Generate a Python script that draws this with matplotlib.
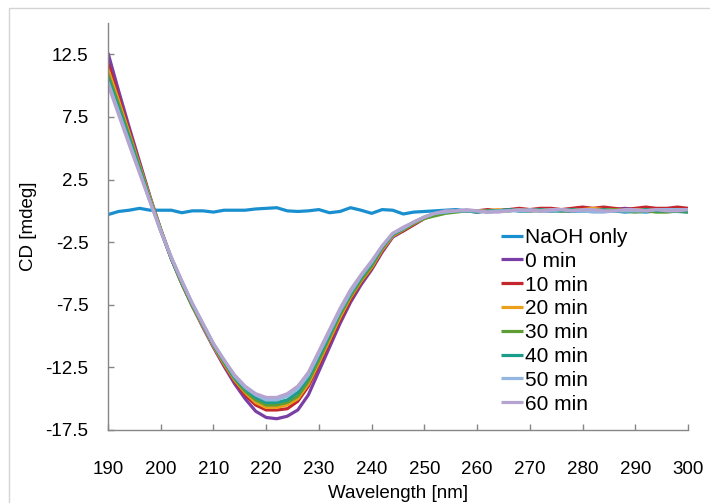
import numpy as np
import matplotlib
matplotlib.use("Agg")
import matplotlib.pyplot as plt
from matplotlib.patches import Rectangle

plt.rcParams['font.family'] = ['Liberation Sans', 'DejaVu Sans']

# wavelength grid, 2 nm steps
wavelength = np.arange(190, 301, 2)

naoh_only = [
    -0.3, -0.05, 0.05, 0.2, 0.05, 0.05, 0.05, -0.15, 0.0, 0.0,
    -0.1, 0.05, 0.05, 0.05, 0.15, 0.2, 0.25, 0.0, -0.05, 0.0,
    0.1, -0.15, -0.05, 0.25, 0.05, -0.2, 0.1, 0.05, -0.25, -0.1,
    -0.05, 0.0, 0.05, 0.1, 0.0, 0.0, -0.05, 0.0, 0.1, 0.0,
    0.0, 0.05, 0.0, 0.0, -0.05, 0.0, 0.05, 0.0, 0.0, -0.1,
    -0.05, -0.1, 0.0, -0.05, -0.05, -0.1]
min0 = [
    12.6, 9.6, 6.7, 3.9, 1.1, -1.5, -3.8, -5.8, -7.6, -9.3,
    -10.9, -12.4, -13.8, -15.0, -16.0, -16.5, -16.6, -16.4, -15.9, -14.7,
    -12.8, -10.9, -9.0, -7.3, -5.9, -4.7, -3.3, -2.1, -1.6, -1.1,
    -0.6, -0.3, -0.1, 0.0, 0.0, -0.1, 0.0, 0.0, 0.1, 0.0,
    0.1, 0.0, 0.0, 0.1, 0.1, 0.2, 0.1, 0.0, 0.1, 0.2,
    0.1, 0.1, 0.0, 0.1, 0.1, 0.0]
min10 = [
    11.8, 9.1, 6.4, 3.7, 1.0, -1.5, -3.8, -5.8, -7.6, -9.2,
    -10.8, -12.3, -13.6, -14.7, -15.5, -15.9, -15.9, -15.8, -15.2, -14.0,
    -12.3, -10.5, -8.7, -7.1, -5.7, -4.6, -3.2, -2.0, -1.6, -1.1,
    -0.6, -0.3, -0.1, 0.0, 0.0, 0.0, 0.1, 0.0, 0.1, 0.2,
    0.1, 0.2, 0.2, 0.1, 0.2, 0.3, 0.2, 0.3, 0.2, 0.1,
    0.2, 0.3, 0.2, 0.2, 0.3, 0.2]
min20 = [
    11.3, 8.8, 6.2, 3.6, 1.0, -1.5, -3.8, -5.8, -7.6, -9.2,
    -10.8, -12.2, -13.5, -14.5, -15.3, -15.7, -15.7, -15.5, -15.0, -13.8,
    -12.1, -10.3, -8.5, -6.9, -5.6, -4.5, -3.1, -2.0, -1.5, -1.0,
    -0.6, -0.3, -0.1, 0.0, 0.0, 0.0, 0.0, 0.1, 0.0, 0.1,
    0.0, 0.1, 0.1, 0.0, 0.1, 0.1, 0.2, 0.1, 0.1, 0.0,
    0.1, 0.1, 0.0, 0.1, 0.0, 0.1]
min30 = [
    10.9, 8.5, 6.0, 3.5, 0.9, -1.5, -3.8, -5.8, -7.6, -9.1,
    -10.7, -12.1, -13.4, -14.4, -15.1, -15.5, -15.5, -15.3, -14.8, -13.6,
    -11.9, -10.1, -8.3, -6.8, -5.5, -4.4, -3.0, -1.9, -1.5, -1.0,
    -0.6, -0.4, -0.2, -0.1, 0.0, 0.0, -0.1, 0.0, 0.0, 0.1,
    0.0, 0.0, 0.1, 0.0, 0.0, 0.1, 0.0, 0.0, 0.1, 0.0,
    -0.1, 0.0, -0.1, -0.1, 0.0, -0.1]
min40 = [
    10.6, 8.2, 5.8, 3.3, 0.8, -1.6, -3.8, -5.7, -7.5, -9.1,
    -10.7, -12.0, -13.3, -14.2, -14.9, -15.3, -15.3, -15.1, -14.5, -13.3,
    -11.6, -9.9, -8.1, -6.6, -5.3, -4.2, -2.9, -1.9, -1.4, -0.9,
    -0.5, -0.2, -0.1, 0.0, 0.0, -0.1, 0.0, 0.0, 0.1, 0.0,
    0.0, 0.1, 0.0, 0.0, 0.1, 0.0, 0.0, 0.1, 0.0, 0.0,
    0.0, 0.1, 0.0, 0.0, 0.0, 0.0]
min50 = [
    10.3, 7.9, 5.5, 3.1, 0.7, -1.6, -3.7, -5.6, -7.4, -9.0,
    -10.6, -11.9, -13.2, -14.1, -14.7, -15.1, -15.1, -14.8, -14.2, -13.1,
    -11.4, -9.7, -8.0, -6.5, -5.2, -4.1, -2.8, -1.8, -1.4, -0.9,
    -0.5, -0.2, -0.1, 0.0, 0.0, 0.0, -0.1, 0.0, 0.0, 0.0,
    0.1, 0.0, 0.0, 0.1, 0.0, 0.0, -0.1, -0.1, 0.0, 0.0,
    0.0, 0.0, 0.1, 0.1, 0.1, 0.1]
min60 = [
    10.1, 7.7, 5.3, 3.0, 0.7, -1.6, -3.7, -5.6, -7.4, -9.0,
    -10.6, -11.9, -13.1, -14.0, -14.6, -14.9, -14.9, -14.6, -14.0, -12.9,
    -11.2, -9.5, -7.8, -6.3, -5.1, -4.0, -2.8, -1.8, -1.3, -0.9,
    -0.5, -0.2, 0.0, 0.0, 0.1, 0.0, -0.1, -0.1, 0.0, 0.1,
    0.0, 0.0, 0.1, 0.1, 0.0, 0.1, 0.1, 0.0, 0.0, 0.1,
    0.1, 0.0, 0.1, 0.0, 0.0, 0.1]

labels = ['NaOH only', '0 min', '10 min', '20 min', '30 min',
          '40 min', '50 min', '60 min']
series = [naoh_only, min0, min10, min20, min30, min40, min50, min60]
colors = ['#1a8fcf', '#7a3fa5', '#c3262d', '#eba01c', '#5e9c35',
          '#1c9c8a', '#93b6e0', '#b5a4cf']

xticks = np.arange(190, 301, 10)
yticks = np.arange(-17.5, 13, 5)

fig = plt.figure(figsize=(7.1, 5.03), dpi=100)
ax = fig.add_axes([108/710, 1-430/503, 580/710, 407/503])

for y, c, lab in zip(series, colors, labels):
    ax.plot(wavelength, y, color=c, lw=2.3, label=lab, solid_capstyle='butt')

ax.set_xlim(190, 300)
ax.set_ylim(-17.5, 15)
ax.set_xticks(xticks)
ax.set_yticks(yticks)
ax.set_yticklabels(['%.1f' % v for v in yticks])

for s in ['top', 'right']:
    ax.spines[s].set_visible(False)
for s in ['left', 'bottom']:
    ax.spines[s].set_color('#868686')
    ax.spines[s].set_linewidth(1.0)
ax.tick_params(direction='in', length=4, width=1, color='#868686',
               labelsize=13.5)
ax.tick_params(axis='x', pad=22)
ax.tick_params(axis='y', pad=14)

ax.set_xlabel('Wavelength [nm]', fontsize=13.5, labelpad=5)
ax.set_ylabel('CD [mdeg]', fontsize=13.5, labelpad=6)

leg = ax.legend(loc='upper left', bbox_to_anchor=(501/710, 1-228/503),
                bbox_transform=fig.transFigure, frameon=False, fontsize=15,
                handlelength=1.05, handletextpad=0.1, labelspacing=0.23,
                borderpad=0, borderaxespad=0)

fig.patches.append(Rectangle((9/710, -0.05), 1.1, 1.05 - 8/503,
                             transform=fig.transFigure, fill=False,
                             edgecolor='#d4d4d4', lw=1))

fig.savefig('out.png', dpi=100)
